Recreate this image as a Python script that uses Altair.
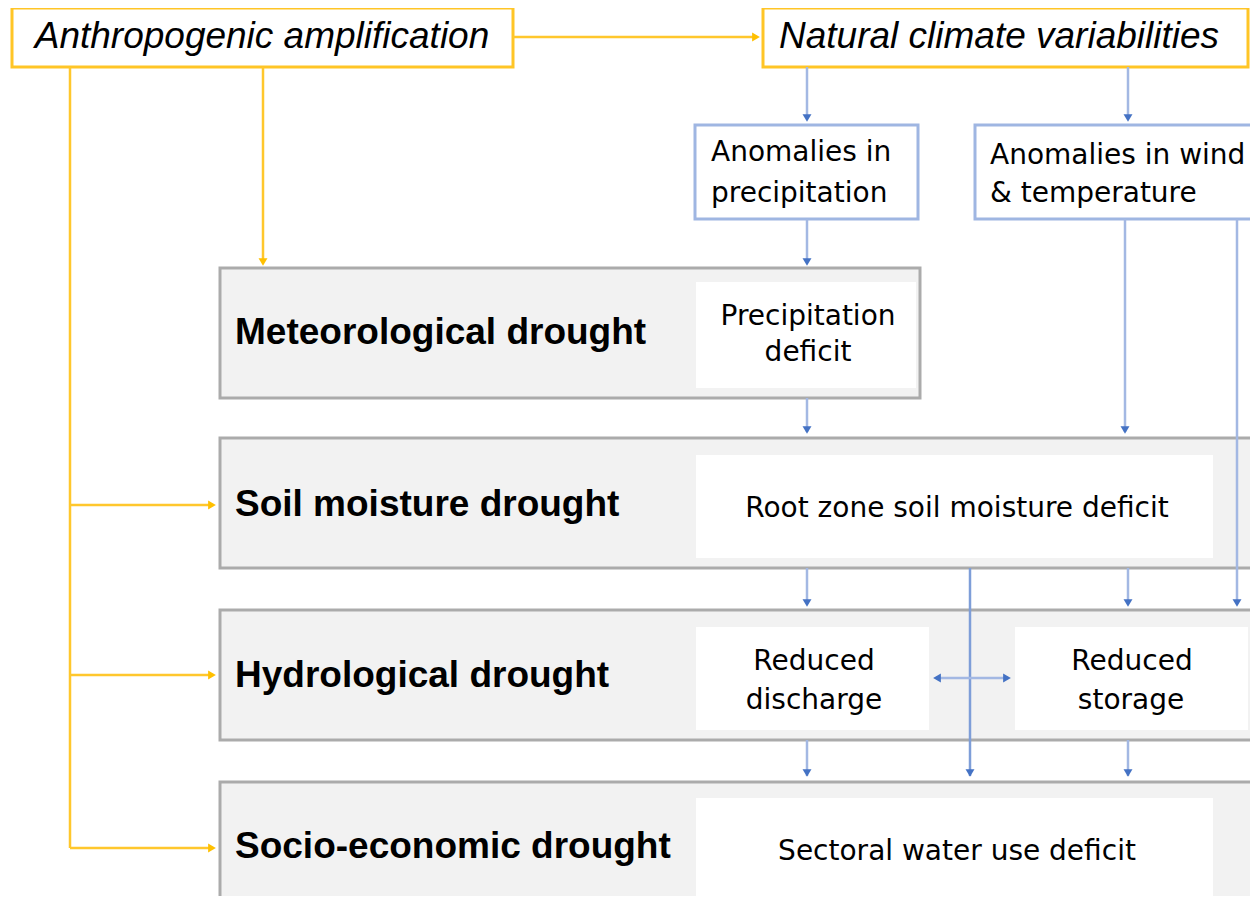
import altair as alt
import pandas as pd

# ---- diagram content ----
drought_labels = ["Meteorological drought", "Soil moisture drought", "Hydrological drought", "Socio-economic drought"]
drought_x1 = [220, 220, 220, 220]
drought_x2 = [920, 1275, 1275, 1275]
drought_y1 = [268, 438, 610, 782]
drought_y2 = [398, 568, 740, 930]
drought_label_y = [333, 505, 676, 847]

inner_x1 = [696, 696, 696, 1015, 696]
inner_x2 = [916, 1213, 929, 1248, 1213]
inner_y1 = [282, 455, 627, 627, 798]
inner_y2 = [388, 558, 730, 730, 920]

header_texts = ["Anthropogenic amplification", "Natural climate variabilities"]
header_x1 = [12, 763]
header_x2 = [513, 1248]
header_y1 = [8, 8]
header_y2 = [67, 67]

anom_x1 = [695, 975]
anom_x2 = [918, 1275]
anom_y1 = [125, 125]
anom_y2 = [219, 219]

# connector lines: x1, y1, x2, y2, colour
YEL = "#FFC72C"
BLU = "#A3B8E3"
DBL = "#7E9ED8"
line_x1 = [513, 70, 70, 70, 70, 263,
           807, 1128, 807, 1125, 1237, 807, 807, 1128, 807, 1128, 970, 936]
line_y1 = [37, 67, 505, 675, 848, 67,
           67, 67, 219, 219, 219, 398, 568, 568, 740, 740, 568, 678]
line_x2 = [755, 70, 212, 212, 212, 263,
           807, 1128, 807, 1125, 1237, 807, 807, 1128, 807, 1128, 970, 1008]
line_y2 = [37, 848, 505, 675, 848, 260,
           118, 118, 262, 432, 604, 432, 604, 604, 776, 776, 776, 678]
line_col = [YEL] * 6 + [BLU] * 10 + [DBL, BLU]

# arrow heads: x, y, shape, colour
head_x = [756, 212, 212, 212, 263, 807, 1128, 807, 1125, 1237, 807, 807, 1128, 807, 1128, 970, 937, 1007]
head_y = [37, 505, 675, 848, 262, 118, 118, 262, 430, 603, 430, 603, 603, 773, 773, 773, 678, 678]
head_shape = ["triangle-right"] * 4 + ["triangle-down"] * 12 + ["triangle-left", "triangle-right"]
head_col = ["#FFC000"] * 5 + ["#4472C4"] * 13

# texts
txt = ["Anthropogenic amplification", "Natural climate variabilities",
       "Anomalies in", "precipitation", "Anomalies in wind", "& temperature",
       "Precipitation", "deficit", "Root zone soil moisture deficit",
       "Reduced", "discharge", "Reduced", "storage", "Sectoral water use deficit"]
txt_x = [262, 999, 711, 711, 990, 990, 808, 808, 957, 814, 814, 1132, 1131, 957]
txt_y = [37, 37, 153, 194, 156, 194, 317, 353, 509, 662, 701, 662, 701, 852]
txt_align = ["center", "center", "left", "left", "left", "left",
             "center", "center", "center", "center", "center", "center", "center", "center"]
txt_italic = [True, True] + [False] * 12

# ---- scales (page has an 8px margin; map reference pixels 8..1250 / 8..896) ----
W, H = 1242, 888
xs = alt.Scale(domain=[8, 8 + W], range=[0, W], nice=False, zero=False)
ys = alt.Scale(domain=[8, 8 + H], range=[0, H], nice=False, zero=False)
X = lambda f: alt.X(f, type="quantitative", scale=xs, axis=None)
Y = lambda f: alt.Y(f, type="quantitative", scale=ys, axis=None)

def rect_layer(x1, x2, y1, y2, **kw):
    df = pd.DataFrame({"x1": x1, "x2": x2, "y1": y1, "y2": y2})
    return alt.Chart(df).mark_rect(clip=True, **kw).encode(
        x=X("x1"), x2="x2", y=Y("y1"), y2="y2")

gray = rect_layer(drought_x1, drought_x2, drought_y1, drought_y2,
                  fill="#F2F2F2", stroke="#ABABAB", strokeWidth=3)
inner = rect_layer(inner_x1, inner_x2, inner_y1, inner_y2, fill="#FFFFFF", strokeWidth=0)
headers = rect_layer(header_x1, header_x2, header_y1, header_y2,
                     fill="#FFFFFF", stroke="#FFC526", strokeWidth=3)
anoms = rect_layer(anom_x1, anom_x2, anom_y1, anom_y2,
                   fill="#FFFFFF", stroke="#9FB6E2", strokeWidth=3)

lines_df = pd.DataFrame({"x1": line_x1, "y1": line_y1, "x2": line_x2, "y2": line_y2, "c": line_col})
lines = alt.Chart(lines_df).mark_rule(strokeWidth=2.5, clip=True).encode(
    x=X("x1"), x2="x2", y=Y("y1"), y2="y2",
    color=alt.Color("c:N", scale=None, legend=None))

heads_df = pd.DataFrame({"x": head_x, "y": head_y, "s": head_shape, "c": head_col})
heads = alt.Chart(heads_df).mark_point(filled=True, size=80, opacity=1).encode(
    x=X("x"), y=Y("y"),
    shape=alt.Shape("s:N", scale=None, legend=None),
    color=alt.Color("c:N", scale=None, legend=None))

lab_df = pd.DataFrame({"t": drought_labels, "x": [235] * 4, "y": drought_label_y})
labels = alt.Chart(lab_df).mark_text(
    align="left", baseline="middle", font="Liberation Sans", fontSize=37,
    fontWeight="bold", color="#000000").encode(x=X("x"), y=Y("y"), text="t:N")

tdf = pd.DataFrame({"t": txt, "x": txt_x, "y": txt_y, "a": txt_align, "i": txt_italic})
hdr_text = alt.Chart(tdf[tdf.i]).mark_text(
    align="center", baseline="middle", font="Liberation Sans", fontSize=37,
    fontStyle="italic", color="#000000").encode(x=X("x"), y=Y("y"), text="t:N")
left_text = alt.Chart(tdf[(~tdf.i) & (tdf.a == "left")]).mark_text(
    align="left", baseline="middle", font="DejaVu Sans", fontSize=28,
    color="#000000").encode(x=X("x"), y=Y("y"), text="t:N")
center_text = alt.Chart(tdf[(~tdf.i) & (tdf.a == "center")]).mark_text(
    align="center", baseline="middle", font="DejaVu Sans", fontSize=28,
    color="#000000").encode(x=X("x"), y=Y("y"), text="t:N")

chart = alt.layer(gray, inner, headers, anoms, lines, heads, labels, hdr_text, left_text, center_text).properties(
    width=W, height=H, padding=0, autosize=alt.AutoSizeParams(type="none"),
    background="#FFFFFF"
).configure_view(stroke=None)

chart.save("out.html", embed_options={"renderer": "svg", "actions": False})
